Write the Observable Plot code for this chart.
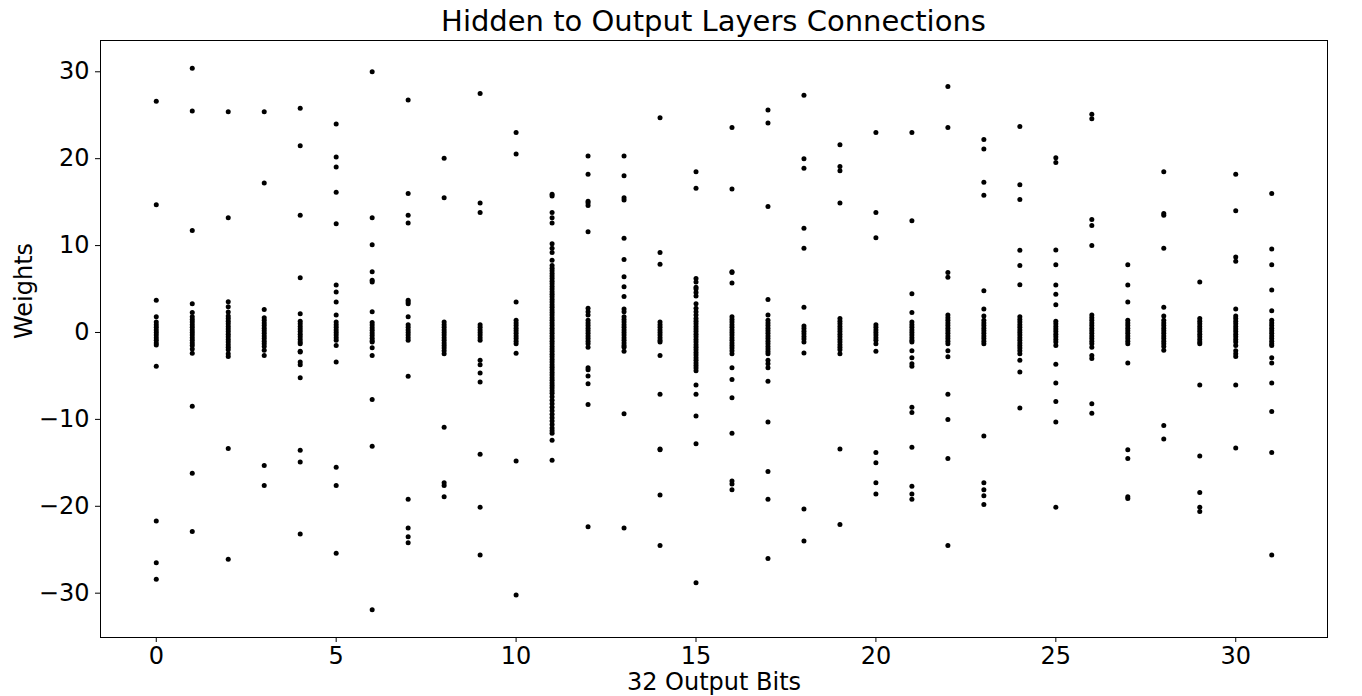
<!DOCTYPE html>
<html>
<head>
<meta charset="utf-8">
<script src="https://cdn.jsdelivr.net/npm/d3@7"></script>
<script src="https://cdn.jsdelivr.net/npm/@observablehq/plot@0.6"></script>
<style>
  html, body { margin: 0; padding: 0; background: #fff; }
  #title { height: 38px; box-sizing: border-box; padding-top: 7px; padding-left: 100px; padding-right: 35px;
           font: 29px/1 "DejaVu Sans", sans-serif; text-align: center; color: #000; white-space: nowrap; }
</style>
</head>
<body>
<div id="title">Hidden to Output Layers Connections</div>
<div id="chart"></div>
<script>
const titleText = "Hidden to Output Layers Connections";
const xLabel = "32 Output Bits";
const yLabel = "Weights";
const xTicks = [0, 5, 10, 15, 20, 25, 30];
const yTicks = [-30, -20, -10, 0, 10, 20, 30];
const bits = d3.range(32);

const w0 = [26.6, 14.7, 3.7, 1.8, 1.2, 0.9, 0.6, 0.3, 0, -0.3, -0.6, -0.9, -1.2, -1.45, -3.9, -21.7, -26.5, -28.4];
const w1 = [30.4, 25.5, 11.75, 3.3, 2.3, 1.8, 1.5, 1.2, 0.9, 0.6, 0.3, 0, -0.3, -0.6, -0.9, -1.2, -1.5, -1.9, -2.4, -8.5, -16.2, -22.9];
const w2 = [25.4, 13.2, 3.55, 2.95, 2.35, 1.9, 1.6, 1.3, 1.0, 0.7, 0.4, 0.1, -0.2, -0.5, -0.8, -1.1, -1.4, -1.7, -2.0, -2.45, -2.75, -13.35, -26.1];
const w3 = [25.4, 17.2, 2.65, 1.7, 1.4, 1.1, 0.8, 0.5, 0.2, -0.1, -0.4, -0.7, -1.0, -1.3, -1.6, -2.05, -2.65, -15.3, -17.6];
const w4 = [25.8, 21.5, 13.5, 6.3, 2.15, 1.3, 1.0, 0.7, 0.4, 0.1, -0.2, -0.5, -0.8, -1.1, -1.3, -2.15, -2.25, -3.4, -3.7, -5.2, -13.55, -14.9, -23.2];
const w5 = [24.0, 20.2, 19.05, 16.15, 12.5, 5.45, 4.65, 3.5, 2.0, 1.2, 0.9, 0.6, 0.3, 0, -0.3, -0.6, -0.9, -1.5, -3.4, -15.5, -17.6, -25.4];
const w6 = [30.0, 13.2, 10.1, 7.0, 6.0, 5.8, 2.4, 1.15, 0.85, 0.55, 0.25, -0.05, -0.35, -0.65, -0.95, -1.1, -1.75, -2.65, -7.7, -13.1, -31.9];
const w7 = [26.75, 16.0, 13.5, 12.6, 3.7, 3.5, 3.3, 1.8, 0.9, 0.6, 0.3, 0, -0.3, -0.6, -0.9, -5.05, -19.2, -22.5, -23.5, -24.2];
const w8 = [20.05, 15.5, 1.2, 0.9, 0.6, 0.3, 0, -0.3, -0.6, -0.9, -1.2, -1.5, -1.8, -2.1, -2.45, -10.9, -17.3, -17.6, -18.9];
const w9 = [27.5, 14.9, 13.8, 0.9, 0.6, 0.3, 0, -0.3, -0.6, -0.9, -3.2, -3.7, -4.65, -5.7, -14.0, -20.1, -25.6];
const w10 = [23.0, 20.55, 3.5, 1.4, 1.1, 0.8, 0.5, 0.2, -0.1, -0.4, -0.7, -1.0, -1.3, -2.4, -14.8, -30.2];
const w11 = [15.9, 15.7, 13.8, 13.2, 12.6, 10.2, 9.7, 9.2, 8.3,
  7.7, 7.4, 7.1, 6.8, 6.5, 6.2, 5.9, 5.6, 5.3, 5.0, 4.7, 4.4, 4.1, 3.8, 3.5, 3.2, 2.9, 2.6, 2.3, 2.0,
  1.7, 1.4, 1.1, 0.8, 0.5, 0.2, -0.1, -0.4, -0.7, -1.0, -1.3, -1.6, -1.9, -2.2, -2.5, -2.8, -3.1, -3.4,
  -3.7, -4.0, -4.3, -4.6, -4.9, -5.2, -5.5, -5.8, -6.1, -6.4, -6.7, -7.0, -7.4,
  -7.8, -8.2, -8.6, -9.0, -9.4, -9.8, -10.2, -10.6, -11.0, -11.3, -11.6, -12.4, -14.7];
const w12 = [20.3, 18.2, 15.1, 14.9, 14.6, 11.6, 2.8, 2.4, 2.0, 1.4, 1.1, 0.8, 0.5, 0.2, -0.1, -0.4, -0.7, -1.0, -1.3, -1.7, -4.05, -4.3, -5.0, -5.9, -8.3, -22.35];
const w13 = [20.3, 18.05, 15.5, 15.25, 10.85, 8.4, 6.4, 5.25, 4.15, 2.7, 2.4, 1.8, 1.5, 1.2, 0.9, 0.6, 0.3, 0, -0.3, -0.6, -0.9, -1.2, -1.5, -1.7, -2.15, -9.35, -22.5];
const w14 = [24.7, 9.2, 7.85, 1.2, 0.9, 0.6, 0.3, 0, -0.3, -0.6, -0.9, -1.1, -2.65, -7.1, -13.4, -13.5, -18.7, -24.5];
const w15 = [18.5, 16.6, 6.2, 5.8, 5.2, 5.0, 4.6, 4.2, 3.3, 2.8, 2.4, 2.0, 1.6, 1.3, 1.0, 0.7, 0.4, 0.1, -0.2, -0.5, -0.8, -1.1, -1.4, -1.7, -2.0, -2.3, -2.6, -2.9, -3.2, -3.5, -3.8, -4.1, -4.4, -6.05, -7.1, -9.6, -12.8, -28.8];
const w16 = [23.6, 16.5, 7.0, 6.9, 5.7, 1.8, 1.5, 1.2, 0.9, 0.6, 0.3, 0, -0.3, -0.6, -0.9, -1.2, -1.5, -1.8, -2.1, -2.45, -4.05, -5.4, -7.5, -11.6, -17.1, -17.45, -18.1];
const w17 = [25.6, 24.1, 14.5, 3.8, 2.0, 1.4, 1.1, 0.8, 0.5, 0.2, -0.1, -0.4, -0.7, -1.0, -1.3, -1.6, -1.9, -2.2, -2.45, -3.2, -3.6, -4.05, -5.6, -10.3, -16.0, -19.2, -26.0];
const w18 = [27.3, 20.0, 18.9, 12.0, 9.7, 2.9, 0.75, 0.45, 0.15, -0.15, -0.45, -0.75, -1.1, -2.35, -20.3, -24.0];
const w19 = [21.6, 19.1, 18.6, 14.9, 1.6, 1.3, 1.0, 0.7, 0.4, 0.1, -0.2, -0.5, -0.8, -1.1, -1.4, -1.7, -2.0, -2.45, -13.4, -22.1];
const w20 = [23.0, 13.8, 10.9, 0.9, 0.6, 0.3, 0, -0.3, -0.6, -0.9, -1.3, -2.15, -13.8, -15.0, -17.3, -18.6];
const w21 = [23.0, 12.85, 4.45, 2.3, 1.2, 0.9, 0.6, 0.3, 0, -0.3, -0.6, -0.9, -1.1, -2.1, -2.9, -3.6, -3.9, -8.6, -9.2, -13.2, -17.7, -18.6, -19.2];
const w22 = [28.3, 23.6, 6.9, 6.35, 2.0, 1.7, 1.4, 1.1, 0.8, 0.5, 0.2, -0.1, -0.4, -0.7, -1.0, -1.3, -2.1, -2.8, -7.1, -10.0, -14.5, -24.5];
const w23 = [22.2, 21.1, 17.3, 15.8, 4.8, 2.7, 1.9, 1.4, 1.1, 0.8, 0.5, 0.2, -0.1, -0.4, -0.7, -1.0, -1.3, -11.9, -17.3, -18.1, -18.8, -19.8];
const w24 = [23.7, 17.0, 15.3, 9.45, 7.7, 5.5, 1.8, 1.5, 1.2, 0.9, 0.6, 0.3, 0, -0.3, -0.6, -0.9, -1.2, -1.5, -1.8, -2.1, -2.45, -3.2, -4.55, -8.7];
const w25 = [20.1, 19.55, 9.5, 7.8, 5.45, 4.4, 3.2, 1.3, 1.0, 0.7, 0.4, 0.1, -0.2, -0.5, -0.8, -1.1, -1.5, -3.65, -5.8, -7.95, -10.3, -20.1];
const w26 = [25.1, 24.6, 13.0, 12.3, 10.0, 2.0, 1.7, 1.4, 1.1, 0.8, 0.5, 0.2, -0.1, -0.4, -0.7, -1.0, -1.3, -1.7, -2.65, -3.0, -8.2, -9.3];
const w27 = [7.8, 5.45, 3.5, 1.4, 1.1, 0.8, 0.5, 0.2, -0.1, -0.4, -0.7, -1.0, -1.3, -3.5, -13.5, -14.5, -18.9, -19.1];
const w28 = [18.5, 13.7, 13.5, 9.7, 2.9, 1.9, 1.4, 1.1, 0.8, 0.5, 0.2, -0.1, -0.4, -0.7, -1.0, -1.3, -1.6, -2.05, -10.7, -12.25];
const w29 = [5.8, 1.6, 1.3, 1.0, 0.7, 0.4, 0.1, -0.2, -0.5, -0.8, -1.1, -1.3, -6.05, -14.2, -18.4, -20.1, -20.6];
const w30 = [18.2, 14.0, 8.7, 8.2, 2.7, 1.9, 1.6, 1.3, 1.0, 0.7, 0.4, 0.1, -0.2, -0.5, -0.8, -1.1, -1.5, -2.1, -2.45, -2.75, -6.05, -13.3];
const w31 = [16.0, 9.6, 7.8, 4.9, 2.5, 1.4, 1.1, 0.8, 0.5, 0.2, -0.1, -0.4, -0.7, -1.0, -1.3, -1.5, -2.9, -3.5, -5.8, -9.1, -13.8, -25.6];

const weights = [w0, w1, w2, w3, w4, w5, w6, w7, w8, w9, w10, w11, w12, w13, w14, w15,
  w16, w17, w18, w19, w20, w21, w22, w23, w24, w25, w26, w27, w28, w29, w30, w31];

const points = bits.flatMap(b => weights[b].map(v => ({bit: b, w: v})));

document.getElementById("title").textContent = titleText;

const chart = Plot.plot({
  width: 1362,
  height: 658,
  marginTop: 2,
  marginBottom: 59,
  marginLeft: 100,
  marginRight: 35,
  style: {fontFamily: "'DejaVu Sans', sans-serif", fontSize: "24px", color: "#000", background: "#fff"},
  x: {domain: [-1.55, 32.55], ticks: xTicks, tickSize: 5, tickPadding: 4, label: null},
  y: {domain: [-35.1, 33.6], ticks: yTicks, tickSize: 5, tickPadding: 6, label: null},
  marks: [
    Plot.dot(points, {x: "bit", y: "w", r: 2.5, fill: "#000", stroke: "none"}),
    Plot.frame({stroke: "#000", strokeWidth: 1}),
    Plot.text([xLabel], {frameAnchor: "bottom", dy: 52, fontSize: 24, fill: "#000"}),
    Plot.text([yLabel], {frameAnchor: "left", dx: -76, rotate: -90, fontSize: 24, fill: "#000"})
  ]
});
document.getElementById("chart").appendChild(chart);
</script>
</body>
</html>
